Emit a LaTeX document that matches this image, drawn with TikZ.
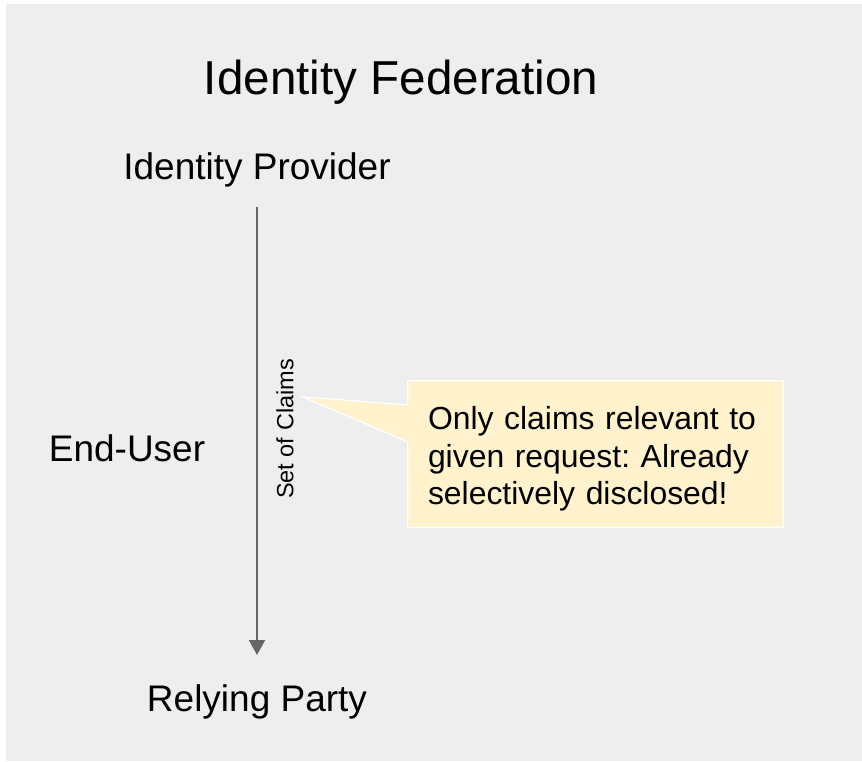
\documentclass[tikz,border=0pt]{standalone}
\usepackage{fontspec}
\setmainfont{Liberation Sans}
\frenchspacing
\usetikzlibrary{arrows.meta,backgrounds}
\definecolor{bggray}{HTML}{EEEEEE}
\definecolor{linegray}{HTML}{666666}
\definecolor{notefill}{HTML}{FFF2CC}
\tikzset{
  actor/.style={font=\fontsize{37}{44}\selectfont, inner sep=0pt},
  titletext/.style={font=\fontsize{47.6}{56}\selectfont, inner sep=0pt},
  flow/.style={draw=linegray, line width=2pt, -{Triangle[width=16pt,length=15pt]}},
  flowlabel/.style={font=\fontsize{23.5}{28}\selectfont, inner sep=0pt, rotate=90},
  notebox/.style={minimum width=375pt, minimum height=146pt, inner sep=0pt},
  notetext/.style={font=\fontsize{31.9}{37.5}\selectfont, text width=335pt, align=left, inner sep=0pt},
  callout/.style={fill=notefill, draw=white, line width=1.2pt, line join=miter}
}
\begin{document}
\begin{tikzpicture}[x=1pt,y=-1pt]
\useasboundingbox (0,0) rectangle (862,761);
\node[titletext] (title) at (401,82) {Identity Federation};
\node[actor] (idp) at (257,170) {Identity Provider};
\node[actor] (user) at (127,448) {End-User};
\node[actor] (rp) at (257,702) {Relying Party};
\draw[flow] ([yshift=-37pt]idp.center) -- ([yshift=47pt]rp.center);
\node[flowlabel] (claims) at (285,429) {Set of Claims};
\coordinate (tip) at (303,397);
\node[notebox] (note) at (595.5,454) {};
\node[notetext] (notetxt) at ([yshift=-5pt]note.center) {Only claims relevant to\\given request: Already\\selectively disclosed!};
\begin{pgfonlayer}{background}
  \fill[white] (0,0) rectangle (862,761);
  \fill[bggray] (6,4) rectangle (862,761);
  \path[callout] (note.north west) -- (note.north east) -- (note.south east) -- (note.south west)
    -- ([yshift=-61pt]note.north west) -- (tip) -- ([yshift=-24pt]note.north west) -- cycle;
\end{pgfonlayer}
\end{tikzpicture}
\end{document}
